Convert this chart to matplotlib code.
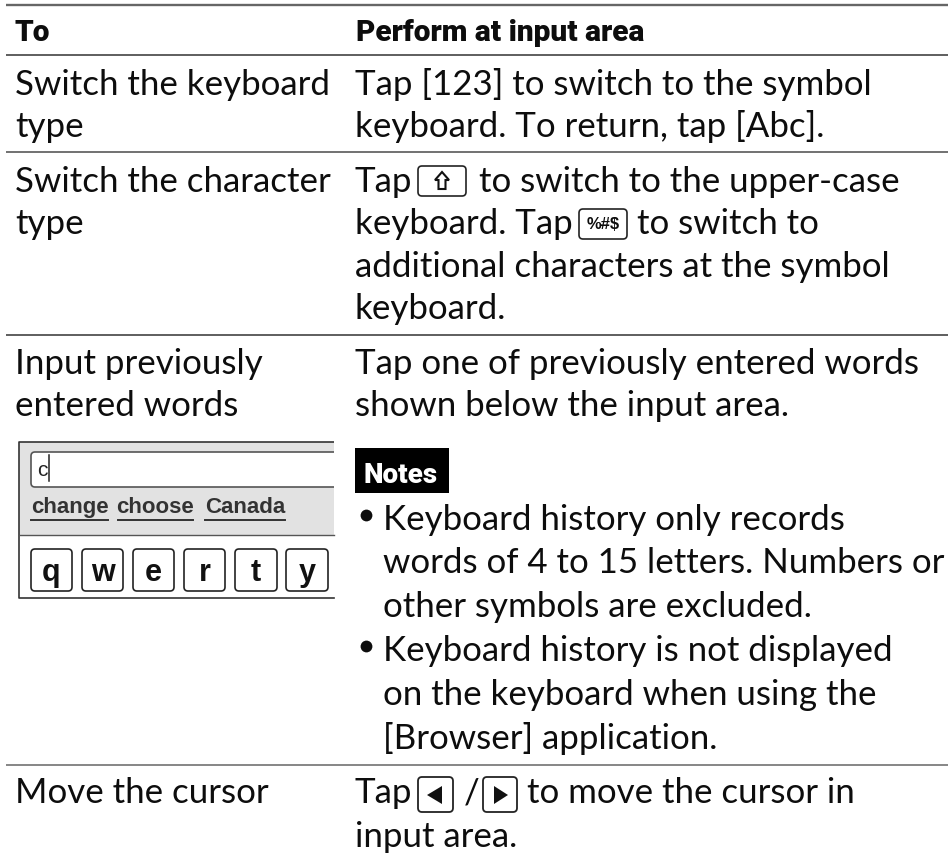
import matplotlib
matplotlib.use("Agg")
import matplotlib.pyplot as plt
from matplotlib.patches import FancyBboxPatch, Rectangle, Polygon

FONT = "Lato"
HEAD = "Roboto"
INSET = "Liberation Sans"
SIZE = 25.1
COL_L, COL_R, COL_N = 15, 355, 383
header_left = "To"
header_right = "Perform at input area"
left_lines = [("Switch the keyboard", 95), ("type", 137),
              ("Switch the character", 192), ("type", 234),
              ("Input previously", 374), ("entered words", 416),
              ("Move the cursor", 803)]
right_lines = [("Tap [123] to switch to the symbol", 95),
               ("keyboard. To return, tap [Abc].", 137),
               ("keyboard. Tap", 234),
               ("additional characters at the symbol", 277),
               ("keyboard.", 319),
               ("Tap one of previously entered words", 374),
               ("shown below the input area.", 416),
               ("input area.", 847)]
note_lines = [("Keyboard history only records", 530, True),
              ("words of 4 to 15 letters. Numbers or", 573, False),
              ("other symbols are excluded.", 617, False),
              ("Keyboard history is not displayed", 661, True),
              ("on the keyboard when using the", 705, False),
              ("[Browser] application.", 749, False)]
rules = [(5, "#666666", 1.7), (55, "#333333", 1.1), (152, "#666666", 1.3),
         (335, "#333333", 1.1), (765, "#666666", 1.1)]
suggestions = [("change", 31, 108), ("choose", 118, 193), ("Canada", 205, 285)]
key_letters = ["q", "w", "e", "r", "t", "y"]
key_left = [31, 82, 133, 184, 235, 286]
key_right = [72, 123, 174, 225, 277, 328]

fig = plt.figure(figsize=(9.48, 8.55), dpi=100)
ax = fig.add_axes([0, 0, 1, 1])
ax.set_xlim(0, 948); ax.set_ylim(855, 0); ax.axis("off")

def T(x, y, s, size=SIZE, weight="normal", family=FONT, color="#0d0d0d", ha="left", va="baseline", z=5):
    return ax.text(x, y, s, fontsize=size, fontweight=weight, family=family, color=color, ha=ha, va=va, zorder=z)

def key(x0, y0, x1, y1, lw=1.2, r=4, fc="white", z=2):
    ax.add_patch(FancyBboxPatch((x0 + r, y0 + r), x1 - x0 - 2 * r, y1 - y0 - 2 * r,
                                boxstyle=f"round,pad={r},rounding_size={r}",
                                fc=fc, ec="#222222", lw=lw, zorder=z))

for y, c, lw in rules:
    ax.plot([6, 948], [y, y], color=c, lw=lw, solid_capstyle="butt")

T(COL_L, 41, header_left, size=21.5, weight="black", family=HEAD)
T(COL_R + 1, 41, header_right, size=21.5, weight="black", family=HEAD)

for s, y in left_lines:
    T(COL_L, y, s)
for s, y in right_lines:
    T(COL_R, y, s)

# Row 2, first line with the shift key
T(COL_R, 192, "Tap")
key(418, 166, 466, 196)
ax.add_patch(Polygon([(442, 172), (435, 180), (438.5, 180), (438.5, 189), (445.5, 189), (445.5, 180), (449, 180)],
                     closed=True, fc="white", ec="#111111", lw=1.5, zorder=3))
T(479, 192, "to switch to the upper-case")
# %#$ key
key(579, 209, 627, 239)
T(603, 224, "%#$", size=12, weight="bold", family=INSET, ha="center", va="center")
T(637, 234, "to switch to")

# Notes badge
ax.add_patch(Rectangle((355, 448), 94, 45, fc="black", ec="none"))
T(364, 483, "Notes", size=20, weight="black", family=HEAD, color="white")
for s, y, bullet in note_lines:
    if bullet:
        ax.plot([366], [y - 15], "o", ms=8.5, mew=0, color="#0d0d0d")
    T(COL_N, y, s)

# Last row keys
T(COL_R, 803, "Tap")
key(418, 777, 453, 812, lw=1.3, r=4)
ax.add_patch(Polygon([(427, 795), (442, 786), (442, 804)], closed=True, fc="#111111", ec="none", zorder=3))
T(464, 803, "/")
key(483, 777, 517, 812, lw=1.3, r=4)
ax.add_patch(Polygon([(508, 795), (494, 786), (494, 804)], closed=True, fc="#111111", ec="none", zorder=3))
T(527, 803, "to move the cursor in")

# Screenshot inset
ax.add_patch(Rectangle((19, 442), 315, 93, fc="#e2e2e2", ec="none", zorder=1))
ax.plot([334, 19, 19, 334], [442, 442, 598, 598], color="#333333", lw=1.2, zorder=3)
ax.plot([19, 334], [535, 535], color="#555555", lw=1.0, zorder=3)
ax.add_patch(FancyBboxPatch((35, 456), 310, 27, boxstyle="round,pad=4,rounding_size=4",
                            fc="white", ec="#555555", lw=1.2, zorder=2))
ax.add_patch(Rectangle((334.5, 440), 18, 50, fc="white", ec="none", zorder=4))
T(37, 476, "c", size=15, family=INSET, color="#222222")
ax.plot([48.7, 48.7], [455, 481], color="#222222", lw=1.1, zorder=5)
for s, x0, x1 in suggestions:
    T((x0 + x1) / 2, 513, s, size=16, weight="bold", family=INSET, ha="center", color="#333333")
    ax.plot([x0, x1], [520, 520], color="#333333", lw=1.4, zorder=5)
for s, x0, x1 in zip(key_letters, key_left, key_right):
    key(x0, 549, x1, 591, lw=1.2, r=4)
    T((x0 + x1) / 2, 581, s, size=22, weight="bold", family=INSET, ha="center", color="#111111")

fig.savefig("out.png", dpi=100)
